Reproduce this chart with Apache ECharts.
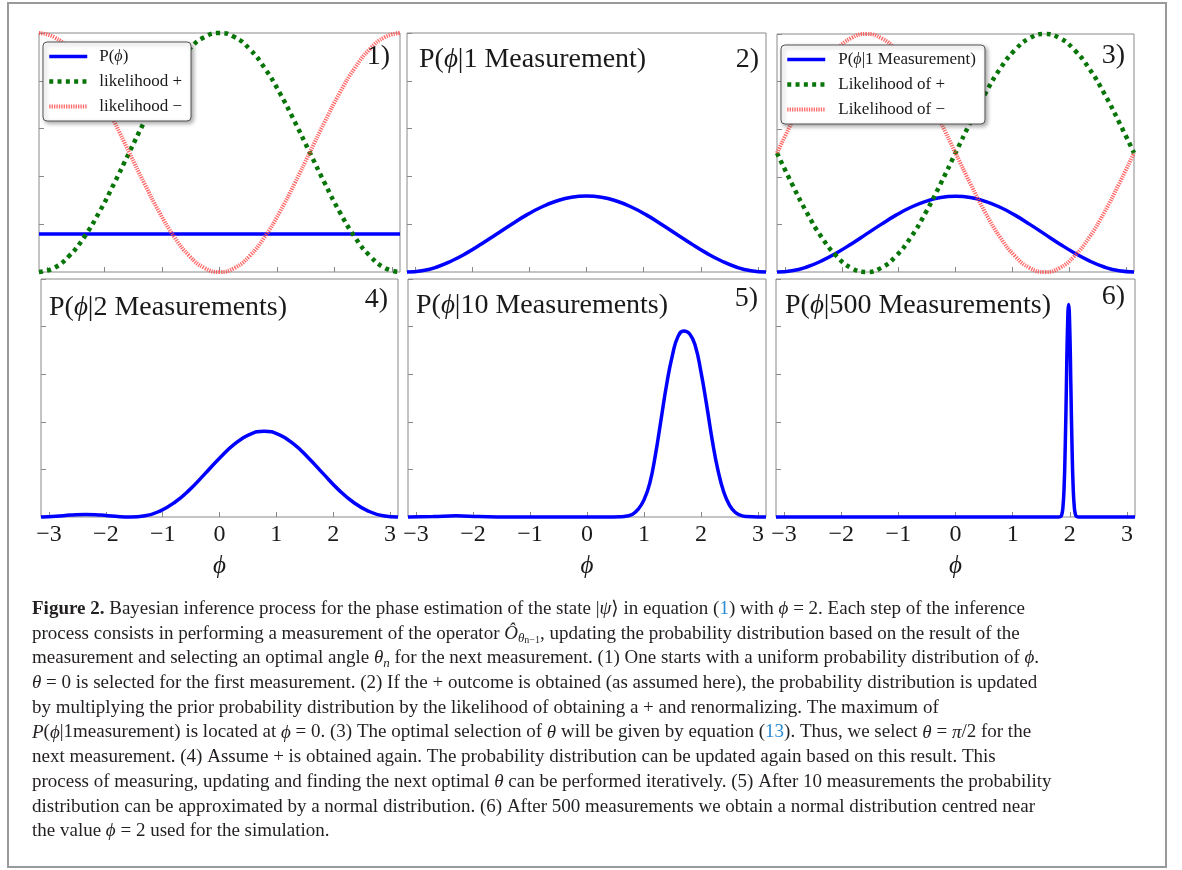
<!DOCTYPE html>
<html>
<head>
<meta charset="utf-8">
<title>Bayesian inference for phase estimation</title>
<script src="https://cdn.jsdelivr.net/npm/echarts@6.0.0/dist/echarts.min.js"></script>
<style>
  html, body { margin: 0; padding: 0; background: #fff; }
  #chart { width: 1182px; height: 870px; }
</style>
</head>
<body>
<div id="chart"></div>
<script>
// phase samples (about pi/12 apart) used for panels 1-4
const phiGrid = [-3.1416, -2.880, -2.618, -2.356, -2.094, -1.833, -1.571, -1.309, -1.047, -0.785, -0.524, -0.262, 0,
                 0.262, 0.524, 0.785, 1.047, 1.309, 1.571, 1.833, 2.094, 2.356, 2.618, 2.880, 3.1416];

// panel 1
const prior = [0.159, 0.159, 0.159, 0.159, 0.159, 0.159, 0.159, 0.159, 0.159, 0.159, 0.159, 0.159, 0.159,
               0.159, 0.159, 0.159, 0.159, 0.159, 0.159, 0.159, 0.159, 0.159, 0.159, 0.159, 0.159];
const likePlus1 = [0, 0.017, 0.067, 0.146, 0.25, 0.371, 0.5, 0.629, 0.75, 0.854, 0.933, 0.983, 1,
                   0.983, 0.933, 0.854, 0.75, 0.629, 0.5, 0.371, 0.25, 0.146, 0.067, 0.017, 0];
const likeMinus1 = [1, 0.983, 0.933, 0.854, 0.75, 0.629, 0.5, 0.371, 0.25, 0.146, 0.067, 0.017, 0,
                    0.017, 0.067, 0.146, 0.25, 0.371, 0.5, 0.629, 0.75, 0.854, 0.933, 0.983, 1];

// panels 2 and 3
const post1 = [0, 0.005, 0.021, 0.047, 0.080, 0.118, 0.159, 0.200, 0.239, 0.272, 0.297, 0.313, 0.318,
               0.313, 0.297, 0.272, 0.239, 0.200, 0.159, 0.118, 0.080, 0.047, 0.021, 0.005, 0];
const likePlus3 = [0.5, 0.371, 0.25, 0.146, 0.067, 0.017, 0, 0.017, 0.067, 0.146, 0.25, 0.371, 0.5,
                   0.629, 0.75, 0.854, 0.933, 0.983, 1, 0.983, 0.933, 0.854, 0.75, 0.629, 0.5];
const likeMinus3 = [0.5, 0.629, 0.75, 0.854, 0.933, 0.983, 1, 0.983, 0.933, 0.854, 0.75, 0.629, 0.5,
                    0.371, 0.25, 0.146, 0.067, 0.017, 0, 0.017, 0.067, 0.146, 0.25, 0.371, 0.5];

// panel 4
const post2 = [0, 0.003, 0.008, 0.011, 0.008, 0.003, 0, 0.005, 0.025, 0.062, 0.115, 0.180, 0.247,
               0.306, 0.346, 0.360, 0.346, 0.306, 0.247, 0.180, 0.115, 0.062, 0.025, 0.005, 0];

// panel 5
const phi10 = [-3.1416, -2.7, -2.3, -1.9, -1.4, -0.5, 0.3, 0.6, 0.7, 0.8, 0.9, 1.0, 1.1, 1.2, 1.3, 1.4, 1.5,
               1.6, 1.7, 1.8, 1.9, 2.0, 2.1, 2.2, 2.3, 2.4, 2.5, 2.6, 2.7, 2.8, 3.0, 3.1416];
const post10 = [0, 0.002, 0.005, 0.002, 0, 0, 0, 0.001, 0.004, 0.012, 0.033, 0.072, 0.14, 0.26, 0.41, 0.56, 0.68,
                0.76, 0.782, 0.77, 0.72, 0.61, 0.47, 0.32, 0.195, 0.105, 0.05, 0.02, 0.007, 0.002, 0, 0];

// panel 6
const phi500 = [-3.1416, -1, 0, 1, 1.80, 1.84, 1.86, 1.88, 1.90, 1.92, 1.94, 1.96, 1.98, 2.00, 2.02, 2.04,
                2.06, 2.08, 2.10, 2.12, 2.16, 3.1416];
const post500 = [0, 0, 0, 0, 0, 0.002, 0.01, 0.04, 0.12, 0.29, 0.54, 0.79, 0.893, 0.79, 0.54, 0.29,
                 0.12, 0.04, 0.01, 0.002, 0, 0];

const xTicks = [-3, -2, -1, 0, 1, 2, 3];
const panelTitles = ['', 'P(ϕ|1 Measurement)', '', 'P(ϕ|2 Measurements)', 'P(ϕ|10 Measurements)', 'P(ϕ|500 Measurements)'];
const panelNumbers = ['1)', '2)', '3)', '4)', '5)', '6)'];
const legend1Names = ['P(ϕ)', 'likelihood +', 'likelihood −'];
const legend3Names = ['P(ϕ|1 Measurement)', 'Likelihood of +', 'Likelihood of −'];

const captionLines = [
  '{b|Figure 2.} Bayesian inference process for the phase estimation of the state |{i|ψ}⟩ in equation ({l|1}) with {i|ϕ} = 2. Each step of the inference',
  'process consists in performing a measurement of the operator {i|Ô}{s|θ}{ss|n−1}, updating the probability distribution based on the result of the',
  'measurement and selecting an optimal angle {i|θ}{s|n} for the next measurement. (1) One starts with a uniform probability distribution of {i|ϕ}.',
  '{i|θ} = 0 is selected for the first measurement. (2) If the + outcome is obtained (as assumed here), the probability distribution is updated',
  'by multiplying the prior probability distribution by the likelihood of obtaining a + and renormalizing. The maximum of',
  '{i|P}({i|ϕ}|1measurement) is located at {i|ϕ} = 0. (3) The optimal selection of {i|θ} will be given by equation ({l|13}). Thus, we select {i|θ} = {i|π}/2 for the',
  'next measurement. (4) Assume + is obtained again. The probability distribution can be updated again based on this result. This',
  'process of measuring, updating and finding the next optimal {i|θ} can be performed iteratively. (5) After 10 measurements the probability',
  'distribution can be approximated by a normal distribution. (6) After 500 measurements we obtain a normal distribution centred near',
  'the value {i|ϕ} = 2 used for the simulation.'
];

// layout
const panels = [
  { left: 39, top: 33, width: 361, height: 239 },
  { left: 407, top: 33, width: 359, height: 239 },
  { left: 777, top: 34, width: 357, height: 238 },
  { left: 41, top: 279, width: 357, height: 238 },
  { left: 408, top: 279, width: 358, height: 238 },
  { left: 776, top: 279, width: 359, height: 238 }
];
const titlePos = [null, { left: 419, top: 44 }, null, { left: 49, top: 292 }, { left: 416, top: 290 }, { left: 785, top: 290 }];
const numberPos = [{ right: 792, top: 41 }, { right: 423, top: 44 }, { right: 57, top: 40 },
                   { right: 794, top: 284 }, { right: 424, top: 283 }, { right: 57, top: 281 }];

const serif = '"Liberation Serif", "DejaVu Serif", serif';
const mathFont = '"Liberation Serif", "DejaVu Serif", serif';
const ink = '#1a1a1a';

function italicPhi(s) {
  return s.replace(/ϕ/g, '{i|ϕ}');
}

function pairs(xs, ys) {
  return xs.map((x, i) => [x, ys[i]]);
}

const blue = { color: '#0000ff', width: 3.5 };
const green = { color: '#087508', width: 4.5, type: [4, 4.3] };
const red = { color: '#ff4d4d', width: 4, type: [1.3, 1.1], opacity: 0.85 };

function curve(name, idx, data, style) {
  return {
    type: 'line', name: name, xAxisIndex: idx, yAxisIndex: idx,
    data: data, symbol: 'none', showSymbol: false, smooth: 0.5, clip: false, silent: true,
    itemStyle: { color: style.color },
    lineStyle: style
  };
}

const series = [
  curve('P(ϕ)', 0, pairs(phiGrid, prior), blue),
  curve('likelihood +', 0, pairs(phiGrid, likePlus1), green),
  curve('likelihood −', 0, pairs(phiGrid, likeMinus1), red),
  curve('posterior after 1 (panel 2)', 1, pairs(phiGrid, post1), blue),
  curve('P(ϕ|1 Measurement)', 2, pairs(phiGrid, post1), blue),
  curve('Likelihood of +', 2, pairs(phiGrid, likePlus3), green),
  curve('Likelihood of −', 2, pairs(phiGrid, likeMinus3), red),
  curve('P(ϕ|2 Measurements)', 3, pairs(phiGrid, post2), blue),
  curve('P(ϕ|10 Measurements)', 4, pairs(phi10, post10), blue),
  curve('P(ϕ|500 Measurements)', 5, pairs(phi500, post500), blue)
];

const grids = panels.map(p => ({
  left: p.left, top: p.top, width: p.width, height: p.height,
  show: true, borderColor: '#8a8a8a', borderWidth: 1, backgroundColor: '#fff',
  outerBoundsMode: 'none'
}));

const xAxes = panels.map((p, i) => ({
  type: 'value', gridIndex: i, min: -3.1416, max: 3.1416,
  axisLine: { show: false, onZero: false }, splitLine: { show: false },
  axisTick: { show: true, inside: true, length: 5, customValues: xTicks, lineStyle: { color: '#8a8a8a' } },
  axisLabel: {
    show: i >= 3, customValues: xTicks, margin: 6,
    fontFamily: serif, fontSize: 24, color: ink,
    formatter: v => (v < 0 ? '−' + (-v) : String(v))
  },
  name: i >= 3 ? 'ϕ' : '', nameLocation: 'middle', nameGap: 37,
  nameTextStyle: { fontFamily: mathFont, fontStyle: 'italic', fontSize: 25, color: ink }
}));

const yAxes = panels.map((p, i) => ({
  type: 'value', gridIndex: i, min: 0, max: 1, interval: 0.2, position: 'left',
  axisLine: { show: false, onZero: false }, splitLine: { show: false }, axisLabel: { show: false },
  axisTick: { show: true, inside: true, length: 5, lineStyle: { color: '#8a8a8a' } }
}));

const titleRich = { i: { fontFamily: mathFont, fontStyle: 'italic', fontSize: 27, color: ink } };
const titles = [];
panelTitles.forEach((t, i) => {
  if (!t) return;
  titles.push({
    text: italicPhi(t), left: titlePos[i].left, top: titlePos[i].top, padding: 0,
    textStyle: { fontFamily: serif, fontSize: 28, fontWeight: 'normal', color: ink, lineHeight: 32, rich: titleRich }
  });
});
panelNumbers.forEach((t, i) => {
  titles.push({
    text: t, right: numberPos[i].right, top: numberPos[i].top, padding: 0,
    textStyle: { fontFamily: serif, fontSize: 28, fontWeight: 'normal', color: ink, lineHeight: 32 }
  });
});

function legendBox(names, left, top, textPad) {
  return {
    data: names, orient: 'vertical', left: left, top: top,
    padding: [5, 9, 5, 4], itemWidth: 38, itemHeight: 12, itemGap: 6,
    selectedMode: false, backgroundColor: '#fff',
    borderColor: '#555', borderWidth: 1, borderRadius: 4,
    shadowColor: 'rgba(0,0,0,0.35)', shadowBlur: 4, shadowOffsetX: 2, shadowOffsetY: 2,
    lineStyle: { width: 'inherit' },
    itemStyle: { opacity: 0, borderWidth: 0 },
    formatter: name => italicPhi(name),
    textStyle: {
      fontFamily: serif, fontSize: 17, color: ink, lineHeight: 19, padding: [0, 0, 0, textPad],
      rich: { i: { fontFamily: mathFont, fontStyle: 'italic', fontSize: 16, color: ink, lineHeight: 19 } }
    }
  };
}

const captionRich = {
  b: { fontFamily: serif, fontSize: 19, fontWeight: 'bold', lineHeight: 23, fill: '#231f20' },
  i: { fontFamily: serif, fontSize: 19, fontStyle: 'italic', lineHeight: 23, fill: '#231f20' },
  l: { fontFamily: serif, fontSize: 19, lineHeight: 23, fill: '#2a8bd0' },
  s: { fontFamily: serif, fontSize: 13, fontStyle: 'italic', lineHeight: 13, verticalAlign: 'bottom', fill: '#231f20' },
  ss: { fontFamily: serif, fontSize: 10, lineHeight: 9, verticalAlign: 'bottom', fill: '#231f20' }
};

const graphics = [{
  type: 'rect', z: -1, silent: true,
  shape: { x: 8, y: 3, width: 1158, height: 864 },
  style: { fill: 'none', stroke: '#9a9a9a', lineWidth: 2 }
}];
captionLines.forEach((t, k) => {
  graphics.push({
    type: 'text', x: 32, y: 609 + k * 24.7, silent: true,
    style: {
      text: t, fill: '#231f20', fontFamily: serif, fontSize: 19, lineHeight: 23,
      align: 'left', verticalAlign: 'middle', rich: captionRich
    }
  });
});

const chart = echarts.init(document.getElementById('chart'), null, { renderer: 'canvas' });
chart.setOption({
  backgroundColor: '#fff',
  animation: false,
  title: titles,
  legend: [
    legendBox(legend1Names, 43, 42, 7),
    legendBox(legend3Names, 781, 45, 8)
  ],
  grid: grids,
  xAxis: xAxes,
  yAxis: yAxes,
  series: series,
  graphic: graphics
});
</script>
</body>
</html>
